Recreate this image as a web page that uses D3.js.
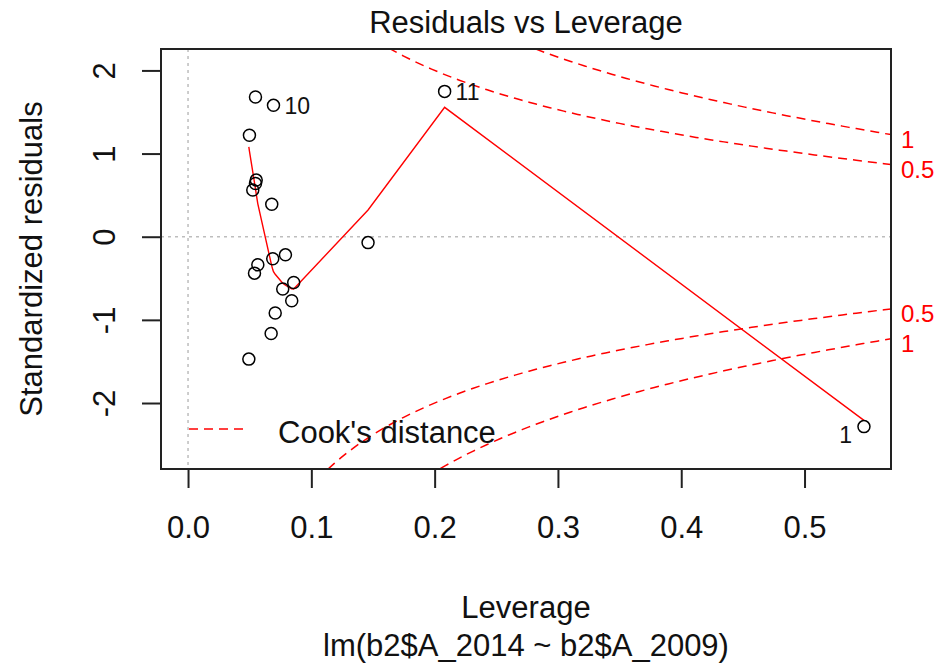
<!DOCTYPE html>
<html>
<head>
<meta charset="utf-8">
<title>Residuals vs Leverage</title>
<script src="https://d3js.org/d3.v7.min.js"></script>
<style>
  body { margin: 0; background: #fff; }
  text { font-family: "Liberation Sans", Arial, sans-serif; fill: #111; }
  .axis text { font-size: 31px; }
  .axis line { stroke: #222; stroke-width: 2; }
  .axis path { display: none; }
</style>
</head>
<body>
<svg width="938" height="664"></svg>
<script>
  const leverage = [0.0547, 0.0693, 0.0498, 0.0553, 0.0547, 0.0525, 0.0679, 0.1460, 0.2081, 0.5482,
                    0.0790, 0.0687, 0.0566, 0.0539, 0.0857, 0.0768, 0.0841, 0.0707, 0.0674, 0.0493];
  const stdResiduals = [1.680, 1.580, 1.220, 0.681, 0.641, 0.561, 0.390, -0.071, 1.748, -2.284,
                        -0.218, -0.266, -0.338, -0.438, -0.550, -0.629, -0.770, -0.917, -1.165, -1.472];
  // labelled (most extreme) observations
  const labelIndex = [1, 8, 9];
  const labelText = ["10", "11", "1"];

  // red smoother
  const smoothLev = [0.0493, 0.0498, 0.0525, 0.0539, 0.0547, 0.0553, 0.0566, 0.0674, 0.0679, 0.0687,
                     0.0693, 0.0707, 0.0768, 0.0790, 0.0841, 0.0857, 0.1460, 0.2081, 0.5482];
  const smoothFit = [1.080, 1.030, 0.780, 0.650, 0.575, 0.515, 0.395, -0.320, -0.350, -0.395,
                     -0.420, -0.452, -0.560, -0.584, -0.626, -0.629, 0.321, 1.556, -2.209];

  // Cook's distance contour levels, number of model coefficients
  const cookLevels = [0.5, 1];
  const nCoef = 2;

  const xTicks = [0, 0.1, 0.2, 0.3, 0.4, 0.5];
  const yTicks = [-2, -1, 0, 1, 2];

  const plotLeft = 161, plotRight = 891, plotTop = 49, plotBottom = 469;

  const svg = d3.select("svg");

  // R-style ranges: xlim = c(0, max h), ylim widened 8% for the labels, then 4% axis padding
  const xMax = d3.max(leverage);
  const xPad = xMax * 0.04;
  const x = d3.scaleLinear()
    .domain([-xPad, xMax + xPad])
    .range([plotLeft, plotRight]);
  const [rLo, rHi] = d3.extent(stdResiduals);
  const yLo = rLo - (rHi - rLo) * 0.08, yHi = rHi + (rHi - rLo) * 0.08;
  const yPad = (yHi - yLo) * 0.04;
  const y = d3.scaleLinear()
    .domain([yLo - yPad, yHi + yPad])
    .range([plotBottom, plotTop]);

  svg.append("defs").append("clipPath").attr("id", "plotClip")
    .append("rect")
      .attr("x", plotLeft).attr("y", plotTop)
      .attr("width", plotRight - plotLeft).attr("height", plotBottom - plotTop);

  // dotted reference lines
  svg.append("line")
    .attr("x1", x(0)).attr("x2", x(0))
    .attr("y1", plotTop).attr("y2", plotBottom)
    .attr("stroke", "#bdbdbd").attr("stroke-width", 1.5).attr("stroke-dasharray", "3,4");
  svg.append("line")
    .attr("x1", plotLeft).attr("x2", plotRight)
    .attr("y1", y(0)).attr("y2", y(0))
    .attr("stroke", "#bdbdbd").attr("stroke-width", 1.5).attr("stroke-dasharray", "3,4");

  // Cook's distance contours
  const hMin = Math.min(d3.min(leverage), xMax / 100);
  const hMax = x.domain()[1];
  const hh = d3.range(101).map(i => hMin + i * (hMax - hMin) / 100);
  const cookG = svg.append("g").attr("clip-path", "url(#plotClip)");
  const line = d3.line().x(d => x(d[0])).y(d => y(d[1]));
  cookLevels.forEach(lvl => {
    [1, -1].forEach(sign => {
      cookG.append("path")
        .attr("d", line(hh.map(h => [h, sign * Math.sqrt(lvl * nCoef * (1 - h) / h)])))
        .attr("fill", "none")
        .attr("stroke", "#ff0000")
        .attr("stroke-width", 1.5)
        .attr("stroke-dasharray", "9,6");
      svg.append("text")
        .attr("x", plotRight + 10)
        .attr("y", y(sign * Math.sqrt(lvl * nCoef * (1 - hMax) / hMax)) + 5)
        .attr("dominant-baseline", "central")
        .attr("font-size", 24)
        .style("fill", "#ff0000")
        .text(lvl);
    });
  });

  // smoother
  svg.append("path")
    .attr("d", line(smoothLev.map((h, i) => [h, smoothFit[i]])))
    .attr("fill", "none")
    .attr("stroke", "#ff0000")
    .attr("stroke-width", 1.4);

  // points
  svg.append("g")
    .selectAll("circle")
    .data(leverage)
    .join("circle")
      .attr("cx", d => x(d))
      .attr("cy", (d, i) => y(stdResiduals[i]))
      .attr("r", 6)
      .attr("fill", "none")
      .attr("stroke", "#000")
      .attr("stroke-width", 1.5);

  svg.append("g")
    .selectAll("text")
    .data(labelIndex)
    .join("text")
      .attr("x", (d, i) => labelText[i] === "1" ? x(leverage[d]) - 12 : x(leverage[d]) + 11)
      .attr("y", (d, i) => y(stdResiduals[d]) + (labelText[i] === "1" ? 8 : 1))
      .attr("text-anchor", (d, i) => labelText[i] === "1" ? "end" : "start")
      .attr("dominant-baseline", "central")
      .attr("font-size", 23)
      .text((d, i) => labelText[i]);

  // axes
  svg.append("g")
    .attr("class", "axis")
    .attr("transform", `translate(0,${plotBottom})`)
    .call(d3.axisBottom(x).tickValues(xTicks).tickFormat(d3.format(".1f")).tickSize(19).tickPadding(28));

  const yAxisG = svg.append("g")
    .attr("class", "axis")
    .attr("transform", `translate(${plotLeft},0)`)
    .call(d3.axisLeft(y).tickValues(yTicks).tickFormat(d3.format("d")).tickSize(19));
  yAxisG.selectAll("text")
    .attr("x", null).attr("dy", null)
    .attr("text-anchor", "middle")
    .attr("transform", `translate(${115 - plotLeft},0) rotate(-90)`)
    .text(d => d < 0 ? "-" + Math.abs(d) : d);

  // box
  svg.append("rect")
    .attr("x", plotLeft).attr("y", plotTop)
    .attr("width", plotRight - plotLeft).attr("height", plotBottom - plotTop)
    .attr("fill", "none").attr("stroke", "#222").attr("stroke-width", 2);

  // legend
  svg.append("line")
    .attr("x1", 189).attr("x2", 249).attr("y1", 429).attr("y2", 429)
    .attr("stroke", "#ff0000").attr("stroke-width", 1.5).attr("stroke-dasharray", "9,6");
  svg.append("text")
    .attr("x", 278).attr("y", 443)
    .attr("font-size", 31)
    .text("Cook's distance");

  // titles
  const midX = (plotLeft + plotRight) / 2;
  svg.append("text")
    .attr("x", midX).attr("y", 33)
    .attr("text-anchor", "middle").attr("font-size", 31)
    .text("Residuals vs Leverage");
  svg.append("text")
    .attr("x", midX).attr("y", 618)
    .attr("text-anchor", "middle").attr("font-size", 31)
    .text("Leverage");
  svg.append("text")
    .attr("x", midX).attr("y", 656)
    .attr("text-anchor", "middle").attr("font-size", 31)
    .text("lm(b2$A_2014 ~ b2$A_2009)");
  svg.append("text")
    .attr("transform", `translate(42,${(plotTop + plotBottom) / 2}) rotate(-90)`)
    .attr("text-anchor", "middle").attr("font-size", 31)
    .text("Standardized residuals");
</script>
</body>
</html>
